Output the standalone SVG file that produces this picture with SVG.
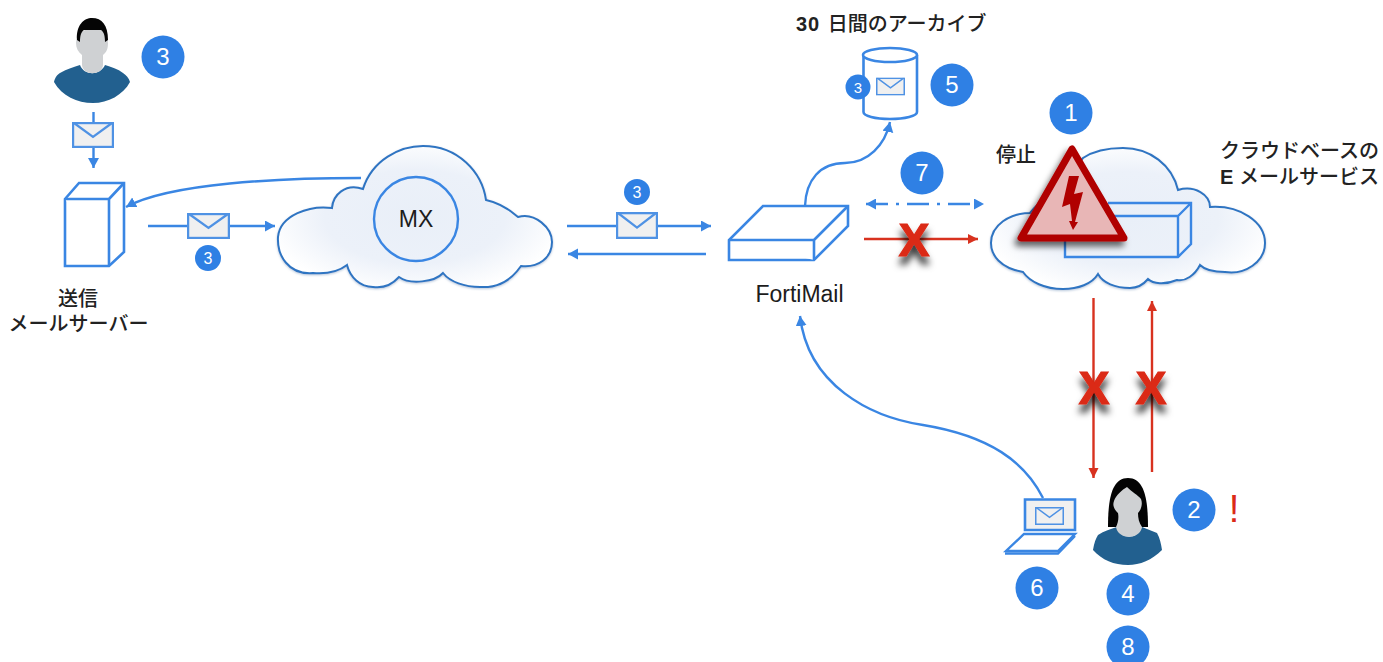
<svg xmlns="http://www.w3.org/2000/svg" width="1383" height="662" viewBox="0 0 1383 662">
<style>
.ln{fill:none;stroke:#3a86e3;stroke-width:2.400}
.rd{fill:none;stroke:#d8321f;stroke-width:2.400}
.box{fill:#fff;stroke:#3a86e3;stroke-width:2.600;stroke-linejoin:miter}
.cloud{fill:url(#cg);stroke:#2f74c2;stroke-width:2;filter:url(#glow)}
.bub{fill:#2f80e4}
.n{font-family:"Liberation Sans",Arial,sans-serif;font-size:24px;fill:#fff;text-anchor:middle}
.s{font-family:"Liberation Sans",Arial,sans-serif;font-size:16px;fill:#fff;text-anchor:middle}
.t{font-family:"Liberation Sans","Noto Sans CJK JP",sans-serif;font-size:20px;font-weight:500;fill:#222}
.b{font-weight:700}
.l{font-family:"Liberation Sans",Arial,sans-serif;font-size:23px;fill:#1c1c1c}
.x{font-family:"Liberation Sans",Arial,sans-serif;font-size:46px;font-weight:700;fill:#db2a17;stroke:#db2a17;stroke-width:1.200;text-anchor:middle;filter:url(#sh)}
.env{fill:#f0f0f0;stroke:#4f92e4;stroke-width:2.400}
.flap{fill:none;stroke:#4f92e4;stroke-width:2.200}
</style>
<defs>
<radialGradient id="cg" cx="50%" cy="50%" r="55%"><stop offset="0" stop-color="#e9eff8"/><stop offset=".6" stop-color="#ecf1f9"/><stop offset="1" stop-color="#ffffff"/></radialGradient>
<filter id="glow" x="-5%" y="-5%" width="110%" height="110%"><feDropShadow dx="0" dy="1" stdDeviation="1.200" flood-color="#8aa4c4" flood-opacity=".6"/></filter>
<filter id="sh" x="-60%" y="-40%" width="220%" height="220%"><feDropShadow dx="0" dy="8" stdDeviation="3.500" flood-color="#000" flood-opacity=".8"/></filter>
<filter id="ts" x="-20%" y="-20%" width="140%" height="140%"><feDropShadow dx="-3" dy="5" stdDeviation="3" flood-color="#000" flood-opacity=".6"/></filter>
<marker id="a" markerUnits="userSpaceOnUse" markerWidth="12" markerHeight="12" refX="10" refY="5.500" orient="auto"><path d="M0 0L10 5.500L0 11Z" fill="#3a86e3"/></marker>
<marker id="as" markerUnits="userSpaceOnUse" markerWidth="12" markerHeight="12" refX="0" refY="5.500" orient="auto"><path d="M10 0L0 5.500L10 11Z" fill="#3a86e3"/></marker>
<marker id="r" markerUnits="userSpaceOnUse" markerWidth="12" markerHeight="12" refX="10" refY="5" orient="auto"><path d="M0 0L10 5L0 10Z" fill="#d8321f"/></marker>
<symbol id="envs" viewBox="0 0 42 26" preserveAspectRatio="none"><rect class="env" x="1" y="1" width="40" height="24"/><path class="flap" d="M2 1L21 15L40 1"/></symbol>
</defs>

<g id="connectors">
<path class="ln" d="M93.500 112V123M93.500 148V168" marker-end="url(#a)"/>
<path class="ln" d="M361 178C280 178 170 183 126 207" marker-end="url(#a)"/>
<path class="ln" d="M148 226H187M230 226H275" marker-end="url(#a)"/>
<path class="ln" d="M567 226H616M657 226H711" marker-end="url(#a)"/>
<path class="ln" d="M706 254H568" marker-end="url(#a)"/>
<path class="ln" d="M805 206C806 180 820 163 845 163C868 163 885 145 890 122" marker-end="url(#a)"/>
<path class="ln" d="M866 204H984" stroke-dasharray="22 8 3 8" marker-start="url(#as)" marker-end="url(#a)"/>
<path class="rd" d="M864 239H978" marker-end="url(#r)"/>
<path class="rd" d="M1093.500 298V478" marker-end="url(#r)"/>
<path class="rd" d="M1152 472V301" marker-end="url(#r)"/>
<path class="ln" d="M1043 498C1025 462 990 436 923 425C870 417 808 385 800 316" marker-end="url(#a)"/>
</g>

<g id="sender">
<path d="M54 82C55 77 58 74 60 73C67 69 74 67 80 65C84 76 100 76 105 65C111 67 118 69 123 73C126 75 129 78 130 82C123 95 108 103 93 103C77 103 62 96 54 82Z" fill="#22608f"/>
<path d="M85 30H103C106 33 108 38 108 43C108 48 107 52 103 55V65C102 76 83 76 82 65V55C78 52 76 48 76 43C76 38 80 33 85 30Z" fill="#cfd1d3"/>
<path d="M77 40C76 25 84 18 92 18C102 18 108 25 108 40L105 42C105 36 104 32 101 30H84C81 32 80 36 80 42Z" fill="#050505"/>
<circle class="bub" cx="163" cy="57" r="21.500"/><text class="n" x="163" y="65">3</text>
</g>
<use id="env-sender" href="#envs" x="72" y="122" width="42" height="26"/>

<g id="mail-server">
<path class="box" d="M65 199L79 183H124V252L109 266H65Z"/>
<path class="box" d="M65 199H109V266M109 199L124 183"/>
<text class="t" x="78" y="306" text-anchor="middle">送信</text>
<text class="t" x="78.500" y="331" text-anchor="middle">メールサーバー</text>
</g>
<g id="badge-server">
<use href="#envs" x="187" y="213" width="43" height="26"/>
<circle class="bub" cx="208" cy="258" r="13"/><text class="s" x="208" y="263.500">3</text>
</g>

<g id="mx-cloud">
<path class="cloud" d="M313 273C288 275 277 255 278 237C280 215 310 205 332 208C333 195 345 183 363 189C372 160 400 146 423 146C458 146 482 172 486 200C500 203 510 210 518 217C535 212 552 228 552 242C552 258 538 268 521 266C510 282 495 288 480 287C465 287 450 282 443 273C435 282 410 285 399 277C390 287 380 288 373 287C360 287 350 277 347 265C338 272 325 274 313 273Z"/>
<circle cx="416" cy="219" r="42" fill="none" stroke="#3a86e3" stroke-width="2.400"/>
<text class="l" x="416" y="227" text-anchor="middle">MX</text>
</g>
<g id="badge-mx">
<use href="#envs" x="616" y="212" width="42" height="27"/>
<circle class="bub" cx="637" cy="192" r="13"/><text class="s" x="637" y="197.500">3</text>
</g>

<g id="fortimail">
<path class="box" d="M763 206H848V226L814 260H729V240Z"/>
<path class="box" d="M729 240H814V260M814 240L848 206"/>
<text class="l" x="799.500" y="302" text-anchor="middle">FortiMail</text>
</g>

<g id="archive">
<text class="t" x="796" y="31"><tspan class="b" style="letter-spacing:1px">30</tspan><tspan dx="2"> 日間のアーカイブ</tspan></text>
<path class="box" d="M863.500 55V112C863.500 116 875 119 890 119C905 119 917 116 917 112V55"/>
<ellipse class="box" cx="890" cy="55" rx="27" ry="7"/>
<circle class="bub" cx="858" cy="87" r="12.500"/><text class="s" x="858" y="92.500" style="font-size:15px">3</text>
<use href="#envs" x="876" y="77.500" width="29" height="18"/>
<circle class="bub" cx="952" cy="85" r="21.500"/><text class="n" x="952" y="93">5</text>
</g>

<g id="step-7"><circle class="bub" cx="922" cy="173" r="21.500"/><text class="n" x="922" y="181">7</text></g>

<g id="cloud-service">
<path class="cloud" d="M1023 272C1000 268 991 255 991 243C991 225 1010 213 1030 213C1045 195 1065 180 1083 158C1095 150 1110 148 1123 148C1150 148 1172 165 1178 190C1195 185 1210 195 1210 207C1240 205 1265 222 1265 243C1265 262 1245 275 1225 272C1215 272 1205 270 1200 265C1195 275 1185 282 1177 280C1165 285 1153 284 1148 279C1143 285 1137 288 1130 288C1115 288 1103 283 1098 274C1092 284 1078 289 1063 289C1045 289 1030 282 1023 272Z"/>
<path d="M1108 203H1191V244L1178 257H1065V216H1178M1178 216L1191 203M1178 216V257" fill="none" stroke="#3a86e3" stroke-width="2.400"/>
<text class="t" x="1220" y="158">クラウドベースの</text>
<text class="t" x="1220" y="184"><tspan class="b">E</tspan> メールサービス</text>
</g>

<g id="outage">
<path d="M1072 149L1021 238H1124Z" fill="#e8b6b6" stroke="#b00000" stroke-width="7" stroke-linejoin="round" filter="url(#ts)"/>
<path d="M1069 176H1079L1074 194L1083 192L1075 222H1078L1073 230L1069 221H1072L1070 204L1062 207Z" fill="#b00000"/>
<text class="t" x="996" y="162">停止</text>
<circle class="bub" cx="1071" cy="113" r="21.500"/><text class="n" x="1071" y="121">1</text>
</g>

<g id="crosses">
<text class="x" x="914" y="256">X</text>
<text class="x" x="1094" y="404">X</text>
<text class="x" x="1151" y="404">X</text>
</g>

<g id="laptop">
<path d="M1025 499.500H1075V530H1025Z" fill="#f0f0f0" stroke="#3a86e3" stroke-width="2.600"/>
<use href="#envs" x="1035" y="507" width="29" height="18"/>
<path d="M1024 534H1075L1058 551H1006Z" fill="#fff" stroke="#3a86e3" stroke-width="2.400"/>
<path d="M1005 553.500H1058L1075 536" fill="none" stroke="#3a86e3" stroke-width="2.400"/>
<circle class="bub" cx="1037" cy="588" r="21.500"/><text class="n" x="1037" y="596">6</text>
</g>

<g id="recipient">
<path d="M1108 527C1108 498 1112 478 1128 478C1144 478 1148 498 1148 527Z" fill="#030303"/>
<path d="M1093 550C1094 543 1096 538 1098 535C1104 531 1111 529 1117 527C1122 540 1136 540 1142 527C1147 529 1152 531 1157 533C1160 538 1161 544 1162 550C1152 560 1140 565 1128 565C1114 565 1102 560 1093 550Z" fill="#22608f"/>
<path d="M1127 487C1132 492 1138 495 1141 499C1143 504 1141 510 1138 513C1138 518 1139 523 1142 527C1140 540 1118 540 1116 527C1118 523 1119 518 1118 513C1115 510 1112 506 1114 501C1116 495 1122 490 1127 487Z" fill="#cfd1d3"/>
<circle class="bub" cx="1194" cy="510" r="21.500"/><text class="n" x="1194" y="518">2</text>
<text x="1234" y="522" text-anchor="middle" style="font-family:'Liberation Sans',Arial,sans-serif;font-size:38px;fill:#db2a17">!</text>
<circle class="bub" cx="1128" cy="594" r="21.500"/><text class="n" x="1128" y="602">4</text>
<circle class="bub" cx="1128" cy="647" r="21.500"/><text class="n" x="1128" y="655">8</text>
</g>
</svg>
